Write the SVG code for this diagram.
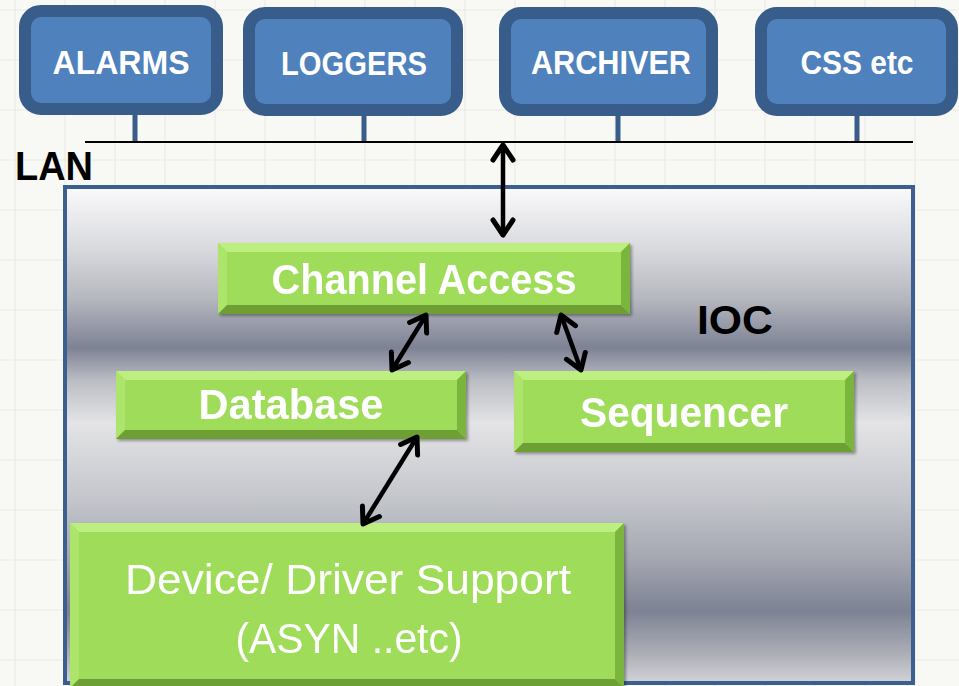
<svg xmlns="http://www.w3.org/2000/svg" width="959" height="686" viewBox="0 0 959 686">
<style>
.bg{fill:#f8f8f4}
.grid{stroke:#ececE6;stroke-width:1.2}
.client{fill:#4f81bd;stroke:#385d8a;stroke-width:12}
.stem{stroke:#385d8a;stroke-width:5}
.lan{stroke:#000;stroke-width:2}
.ctext{font-family:"Liberation Sans",Arial,sans-serif;font-weight:bold;font-size:34px;fill:#fff;text-anchor:middle}
.label{font-family:"Liberation Sans",Arial,sans-serif;font-weight:bold;font-size:41px;fill:#000}
.gtext{font-family:"Liberation Sans",Arial,sans-serif;font-weight:bold;font-size:43px;fill:#fff;text-anchor:middle}
.gtextr{font-family:"Liberation Sans",Arial,sans-serif;font-size:42px;fill:#fff;text-anchor:middle}
.face{fill:#9edc5a}
.bt{fill:#bdee80}
.bl{fill:#ace46c}
.br{fill:#7ab53e}
.bb{fill:#6e9f36}
.arrow{stroke:#000;stroke-width:4.5;fill:none;marker-start:url(#chev);marker-end:url(#chev)}
</style>
<defs>
<linearGradient id="metal" gradientUnits="userSpaceOnUse" x1="0" y1="185" x2="0" y2="686">
<stop offset="0" stop-color="#fbfbfc"/>
<stop offset="0.13" stop-color="#d8d9dd"/>
<stop offset="0.23" stop-color="#b4b6be"/>
<stop offset="0.325" stop-color="#7d8294"/>
<stop offset="0.39" stop-color="#bbbdc4"/>
<stop offset="0.475" stop-color="#e4e4e6"/>
<stop offset="0.63" stop-color="#c3c5cb"/>
<stop offset="0.75" stop-color="#a3a6b0"/>
<stop offset="0.85" stop-color="#7d8294"/>
<stop offset="0.93" stop-color="#a9abb4"/>
<stop offset="1" stop-color="#d6d7da"/>
</linearGradient>
<filter id="shadow" x="-5%" y="-10%" width="115%" height="130%">
<feDropShadow dx="2" dy="2" stdDeviation="1.5" flood-color="#000" flood-opacity="0.35"/>
</filter>
<marker id="chev" markerUnits="userSpaceOnUse" viewBox="-20 -14 24 28" markerWidth="24" markerHeight="28" refX="0" refY="0" orient="auto-start-reverse" overflow="visible">
<path d="M-15,-10 L0,0 L-15,10" fill="none" stroke="#000" stroke-width="5" stroke-linecap="round" stroke-linejoin="round"/>
</marker>
</defs>

<g id="background">
<rect class="bg" x="0" y="0" width="959" height="686"/>
<path class="grid" d="M15,0V686M65,0V686M115,0V686M165,0V686M215,0V686M265,0V686M315,0V686M365,0V686M415,0V686M465,0V686M515,0V686M565,0V686M615,0V686M665,0V686M715,0V686M765,0V686M815,0V686M865,0V686M915,0V686M0,10H959M0,60H959M0,110H959M0,160H959M0,210H959M0,260H959M0,310H959M0,360H959M0,410H959M0,460H959M0,510H959M0,560H959M0,610H959M0,660H959"/>
</g>

<g id="lan">
<line class="stem" x1="135" y1="112" x2="135" y2="142"/>
<line class="stem" x1="364" y1="112" x2="364" y2="142"/>
<line class="stem" x1="618" y1="112" x2="618" y2="142"/>
<line class="stem" x1="857" y1="112" x2="857" y2="142"/>
<line class="lan" x1="85" y1="142" x2="913" y2="142"/>
<text class="label" x="15" y="180" textLength="78" lengthAdjust="spacingAndGlyphs">LAN</text>
</g>

<g id="alarms">
<rect class="client" x="25" y="11" width="192" height="98" rx="16"/>
<text class="ctext" x="121" y="74" textLength="137" lengthAdjust="spacingAndGlyphs">ALARMS</text>
</g>
<g id="loggers">
<rect class="client" x="249" y="13" width="208" height="97" rx="16"/>
<text class="ctext" x="354" y="75" textLength="146" lengthAdjust="spacingAndGlyphs">LOGGERS</text>
</g>
<g id="archiver">
<rect class="client" x="505" y="13" width="207" height="97" rx="16"/>
<text class="ctext" x="611" y="74" textLength="160" lengthAdjust="spacingAndGlyphs">ARCHIVER</text>
</g>
<g id="css">
<rect class="client" x="761" y="13" width="191" height="97" rx="16"/>
<text class="ctext" x="857" y="74" textLength="113" lengthAdjust="spacingAndGlyphs">CSS etc</text>
</g>

<g id="ioc">
<rect x="65" y="187" width="848" height="496" fill="url(#metal)" stroke="#3b6090" stroke-width="4"/>
<text class="label" x="697" y="334" font-size="43" textLength="76" lengthAdjust="spacingAndGlyphs">IOC</text>
</g>

<g id="channel-access" filter="url(#shadow)">
<rect class="face" x="218" y="243" width="412" height="71"/>
<polygon class="bt" points="218,243 630,243 621,252 227,252"/>
<polygon class="bl" points="218,243 227,252 227,305 218,314"/>
<polygon class="br" points="630,243 630,314 621,305 621,252"/>
<polygon class="bb" points="218,314 630,314 621,305 227,305"/>
<text class="gtext" x="424" y="294" textLength="305" lengthAdjust="spacingAndGlyphs">Channel Access</text>
</g>

<g id="database" filter="url(#shadow)">
<rect class="face" x="116" y="371" width="350" height="68"/>
<polygon class="bt" points="116,371 466,371 457,380 125,380"/>
<polygon class="bl" points="116,371 125,380 125,430 116,439"/>
<polygon class="br" points="466,371 466,439 457,430 457,380"/>
<polygon class="bb" points="116,439 466,439 457,430 125,430"/>
<text class="gtext" x="291" y="419" textLength="185" lengthAdjust="spacingAndGlyphs">Database</text>
</g>

<g id="sequencer" filter="url(#shadow)">
<rect class="face" x="514" y="371" width="340" height="81"/>
<polygon class="bt" points="514,371 854,371 845,380 523,380"/>
<polygon class="bl" points="514,371 523,380 523,443 514,452"/>
<polygon class="br" points="854,371 854,452 845,443 845,380"/>
<polygon class="bb" points="514,452 854,452 845,443 523,443"/>
<text class="gtext" x="684" y="427" textLength="208" lengthAdjust="spacingAndGlyphs">Sequencer</text>
</g>

<g id="device-support" filter="url(#shadow)">
<rect class="face" x="70" y="523" width="554" height="165"/>
<polygon class="bt" points="70,523 624,523 615,532 79,532"/>
<polygon class="bl" points="70,523 79,532 79,679 70,688"/>
<polygon class="br" points="624,523 624,688 615,679 615,532"/>
<polygon class="bb" points="70,688 624,688 615,679 79,679"/>
<text class="gtextr" x="348" y="594" textLength="446" lengthAdjust="spacingAndGlyphs">Device/ Driver Support</text>
<text class="gtextr" x="349" y="653" textLength="227" lengthAdjust="spacingAndGlyphs">(ASYN ..etc)</text>
</g>

<g id="connectors">
<line class="arrow" x1="503" y1="145" x2="503" y2="235"/>
<line class="arrow" x1="426" y1="315" x2="392" y2="370"/>
<line class="arrow" x1="561" y1="315" x2="581" y2="370"/>
<line class="arrow" x1="417" y1="437" x2="363" y2="524"/>
</g>
</svg>
